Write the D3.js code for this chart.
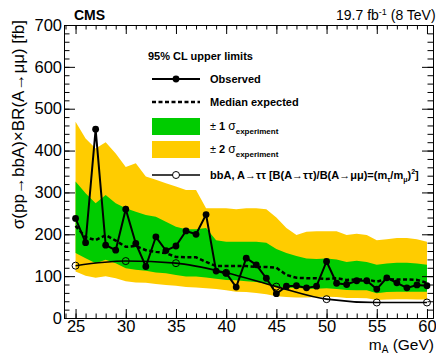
<!DOCTYPE html>
<html>
  <head>
    <meta charset="UTF-8">
    <style>
      body {
        margin: 0;
        background: white;
        font-family: "Liberation Sans", Arial, Helvetica, sans-serif;
      }

      .axis text {
        font-size: 16.5px;
        fill: black;
      }

      .axis .domain {
        stroke: black;
      }

      .axis .tick line {
        stroke: black;
      }

      .legend text {
        font-size: 11px;
        font-weight: bold;
      }
    </style>
    <script src="https://d3js.org/d3.v7.min.js"></script>
  </head>

  <body>
    <svg id="limit-chart"></svg>

    <script type="text/javascript">
      // m_A scan points (GeV)
      let masses = [25, 26, 27, 28, 29, 30, 31, 32, 33, 34, 35, 36, 37, 38, 39, 40, 41, 42,
        43, 44, 45, 46, 47, 48, 49, 50, 51, 52, 53, 54, 55, 56, 57, 58, 59, 60]

      // 95% CL limits in fb
      let observed = [238, 180, 451, 174, 162, 260, 178, 123, 194, 161, 172, 208, 200, 247, 112, 107, 74, 143,
        127, 95, 58, 76, 77, 72, 76, 135, 83, 80, 89, 89, 69, 96, 84, 72, 79, 77]
      let expected = [220, 193, 186, 198, 185, 170, 172, 162, 158, 155, 146, 145, 145, 134, 124, 124, 124, 124,
        122, 122, 120, 103, 96, 95, 95, 93, 95, 91, 92, 92, 87, 93, 92, 92, 91, 84]
      let oneSigmaUp = [326, 298, 274, 294, 274, 262, 254, 246, 242, 230, 218, 212, 212, 215, 186, 182, 182, 182,
        182, 180, 165, 155, 148, 142, 141, 142, 140, 134, 137, 134, 127, 130, 132, 132, 130, 127]
      let oneSigmaDown = [155, 143, 131, 139, 131, 119, 115, 113, 109, 107, 103, 99, 99, 97, 94, 91, 90, 88,
        86, 82, 75, 72, 72, 70, 70, 71, 69, 67, 66, 66, 59, 62, 63, 63, 63, 63]
      let twoSigmaUp = [469, 429, 405, 420, 393, 361, 370, 338, 330, 322, 314, 306, 306, 262, 262, 262, 260, 262,
        262, 260, 240, 215, 198, 206, 207, 207, 207, 198, 201, 198, 186, 188, 191, 191, 188, 182]
      let twoSigmaDown = [111, 101, 96, 100, 95, 88, 85, 84, 81, 79, 77, 74, 73, 71, 69, 66, 63, 62,
        60, 57, 52, 50, 49, 49, 50, 51, 50, 48, 48, 47, 43, 44, 45, 45, 44, 44]

      // bbA, A->tautau reinterpretation
      let theoryMasses = [25, 30, 35, 40, 45, 50, 55, 60]
      let theoryValues = [125, 136, 131, 108, 75, 45, 37, 37]

      let xTickValues = [25, 30, 35, 40, 45, 50, 55, 60]
      let yTickValues = [0, 100, 200, 300, 400, 500, 600, 700]

      let greenColor = '#00cc00'
      let yellowColor = '#ffcc00'

      function getChartConfig() {
        let width = 436
        let height = 355
        let margin = {
          top: 25,
          bottom: 37,
          left: 64,
          right: 3
        }

        let bodyHeight = height - margin.top - margin.bottom
        let bodyWidth = width - margin.left - margin.right

        let container = d3.select('#limit-chart')
          .attr('width', width)
          .attr('height', height)

        return { width, height, margin, bodyHeight, bodyWidth, container }
      }

      function getChartScales(config) {
        let xScale = d3.scaleLinear()
          .domain([23.85, 60.6])
          .range([0, config.bodyWidth])

        let yScale = d3.scaleLinear()
          .domain([0, 700])
          .range([config.bodyHeight, 0])

        return { xScale, yScale }
      }

      function drawBands(scales, body) {
        let points = masses.map((m, i) => ({
          m: m,
          lo2: twoSigmaDown[i], hi2: twoSigmaUp[i],
          lo1: oneSigmaDown[i], hi1: oneSigmaUp[i]
        }))

        let band2 = d3.area()
          .x(d => scales.xScale(d.m))
          .y0(d => scales.yScale(d.lo2))
          .y1(d => scales.yScale(d.hi2))

        let band1 = d3.area()
          .x(d => scales.xScale(d.m))
          .y0(d => scales.yScale(d.lo1))
          .y1(d => scales.yScale(d.hi1))

        body.append('path')
          .datum(points)
          .attr('d', band2)
          .attr('fill', yellowColor)

        body.append('path')
          .datum(points)
          .attr('d', band1)
          .attr('fill', greenColor)
      }

      function drawLines(scales, body) {
        let line = d3.line()
          .x(d => scales.xScale(d[0]))
          .y(d => scales.yScale(d[1]))

        // median expected
        body.append('path')
          .datum(masses.map((m, i) => [m, expected[i]]))
          .attr('d', line)
          .attr('fill', 'none')
          .attr('stroke', 'black')
          .attr('stroke-width', 2.5)
          .attr('stroke-dasharray', '4 2.5')

        // theory curve with open markers
        let theory = theoryMasses.map((m, i) => [m, theoryValues[i]])
        body.append('path')
          .datum(theory)
          .attr('d', d3.line()
            .x(d => scales.xScale(d[0]))
            .y(d => scales.yScale(d[1]))
            .curve(d3.curveMonotoneX))
          .attr('fill', 'none')
          .attr('stroke', 'black')
          .attr('stroke-width', 1.6)

        body.selectAll('.theory-marker')
          .data(theory)
          .join('circle')
            .attr('class', 'theory-marker')
            .attr('cx', d => scales.xScale(d[0]))
            .attr('cy', d => scales.yScale(d[1]))
            .attr('r', 3.5)
            .attr('fill', 'none')
            .attr('stroke', 'black')
            .attr('stroke-width', 1)

        // observed
        let obs = masses.map((m, i) => [m, observed[i]])
        body.append('path')
          .datum(obs)
          .attr('d', line)
          .attr('fill', 'none')
          .attr('stroke', 'black')
          .attr('stroke-width', 2)

        body.selectAll('.obs-marker')
          .data(obs)
          .join('circle')
            .attr('class', 'obs-marker')
            .attr('cx', d => scales.xScale(d[0]))
            .attr('cy', d => scales.yScale(d[1]))
            .attr('r', 3.4)
            .attr('fill', 'black')
      }

      function drawAxes(scales, config) {
        let m = config.margin
        let minorX = d3.range(24, 61)
        let minorY = d3.range(0, 701, 20)

        let axes = [
          { axis: d3.axisBottom(scales.xScale).tickValues(xTickValues).tickSize(-9).tickPadding(2), x: m.left, y: m.top + config.bodyHeight },
          { axis: d3.axisBottom(scales.xScale).tickValues(minorX).tickSize(-4.5).tickFormat(''), x: m.left, y: m.top + config.bodyHeight },
          { axis: d3.axisTop(scales.xScale).tickValues(xTickValues).tickSize(-9).tickFormat(''), x: m.left, y: m.top },
          { axis: d3.axisTop(scales.xScale).tickValues(minorX).tickSize(-4.5).tickFormat(''), x: m.left, y: m.top },
          { axis: d3.axisLeft(scales.yScale).tickValues(yTickValues).tickSize(-11).tickPadding(2), x: m.left, y: m.top },
          { axis: d3.axisLeft(scales.yScale).tickValues(minorY).tickSize(-5.5).tickFormat(''), x: m.left, y: m.top },
          { axis: d3.axisRight(scales.yScale).tickValues(yTickValues).tickSize(-11).tickFormat(''), x: m.left + config.bodyWidth, y: m.top },
          { axis: d3.axisRight(scales.yScale).tickValues(minorY).tickSize(-5.5).tickFormat(''), x: m.left + config.bodyWidth, y: m.top }
        ]

        axes.forEach(a => {
          config.container.append('g')
            .attr('class', 'axis')
            .attr('transform', `translate(${a.x}, ${a.y})`)
            .call(a.axis.tickSizeOuter(0))
            .selectAll('text')
              .attr('font-family', null)
              .attr('font-size', null)
        })

        // axis titles
        let xTitle = config.container.append('text')
          .attr('x', 434)
          .attr('y', 350)
          .attr('text-anchor', 'end')
          .attr('font-size', 15.5)
        xTitle.append('tspan').text('m')
        xTitle.append('tspan').attr('font-size', 10).attr('dy', 2.5).text('A')
        xTitle.append('tspan').attr('dy', -2.5).text(' (GeV)')

        config.container.append('text')
          .attr('transform', 'translate(24, 20) rotate(-90)')
          .attr('text-anchor', 'end')
          .attr('font-size', 17)
          .text('σ(pp→bbA)×BR(A→μμ) [fb]')

        config.container.append('text')
          .attr('x', 74)
          .attr('y', 20)
          .attr('font-size', 14)
          .attr('font-weight', 'bold')
          .text('CMS')

        let lumi = config.container.append('text')
          .attr('x', 336)
          .attr('y', 20)
          .attr('font-size', 14)
        lumi.append('tspan').text('19.7 fb')
        lumi.append('tspan').attr('font-size', 9).attr('dy', -5).text('-1')
        lumi.append('tspan').attr('dy', 5).text(' (8 TeV)')
      }

      function drawLegend(config) {
        let g = config.container.append('g')
          .attr('class', 'legend')

        let x0 = 152
        let x1 = 200
        let tx = 210

        g.append('text').attr('x', 148).attr('y', 60).text('95% CL upper limits')

        // observed
        g.append('line').attr('x1', x0).attr('x2', x1).attr('y1', 79).attr('y2', 79)
          .attr('stroke', 'black').attr('stroke-width', 2)
        g.append('circle').attr('cx', (x0 + x1) / 2).attr('cy', 79).attr('r', 3.4).attr('fill', 'black')
        g.append('text').attr('x', tx).attr('y', 83).text('Observed')

        // expected
        g.append('line').attr('x1', x0).attr('x2', x1).attr('y1', 102).attr('y2', 102)
          .attr('stroke', 'black').attr('stroke-width', 2.5).attr('stroke-dasharray', '4 2.5')
        g.append('text').attr('x', tx).attr('y', 106).text('Median expected')

        // bands
        let bands = [
          { color: greenColor, y: 118, n: '1' },
          { color: yellowColor, y: 141, n: '2' }
        ]
        bands.forEach(b => {
          g.append('rect').attr('x', x0).attr('y', b.y).attr('width', x1 - x0).attr('height', 17)
            .attr('fill', b.color)
          let t = g.append('text').attr('x', tx).attr('y', b.y + 12)
          t.append('tspan').attr('font-weight', 'normal').text('± ')
          t.append('tspan').text(b.n + ' ')
          t.append('tspan').attr('font-weight', 'normal').attr('font-size', 12).text('σ')
          t.append('tspan').attr('font-size', 8).attr('dy', 4).text('experiment')
        })

        // theory
        g.append('line').attr('x1', x0).attr('x2', x1).attr('y1', 175).attr('y2', 175)
          .attr('stroke', 'black').attr('stroke-width', 1.6)
        g.append('circle').attr('cx', (x0 + x1) / 2).attr('cy', 175).attr('r', 3.5)
          .attr('fill', 'white').attr('stroke', 'black').attr('stroke-width', 1)
        let t = g.append('text').attr('x', tx).attr('y', 179)
        t.append('tspan').text('bbA, A→ττ [B(A→ττ)/B(A→μμ)=(m')
        t.append('tspan').attr('font-size', 7).attr('dy', 3).text('τ')
        t.append('tspan').attr('dy', -3).text('/m')
        t.append('tspan').attr('font-size', 7).attr('dy', 3).text('μ')
        t.append('tspan').attr('dy', -3).text(')')
        t.append('tspan').attr('font-size', 7).attr('dy', -5).text('2')
        t.append('tspan').attr('dy', 5).text(']')
      }

      function showData() {
        let config = getChartConfig()
        let scales = getChartScales(config)

        let body = config.container.append('g')
          .attr('transform', `translate(${config.margin.left}, ${config.margin.top})`)

        drawBands(scales, body)
        drawLines(scales, body)
        drawAxes(scales, config)
        drawLegend(config)
      }

      showData()
    </script>
  </body>
</html>
